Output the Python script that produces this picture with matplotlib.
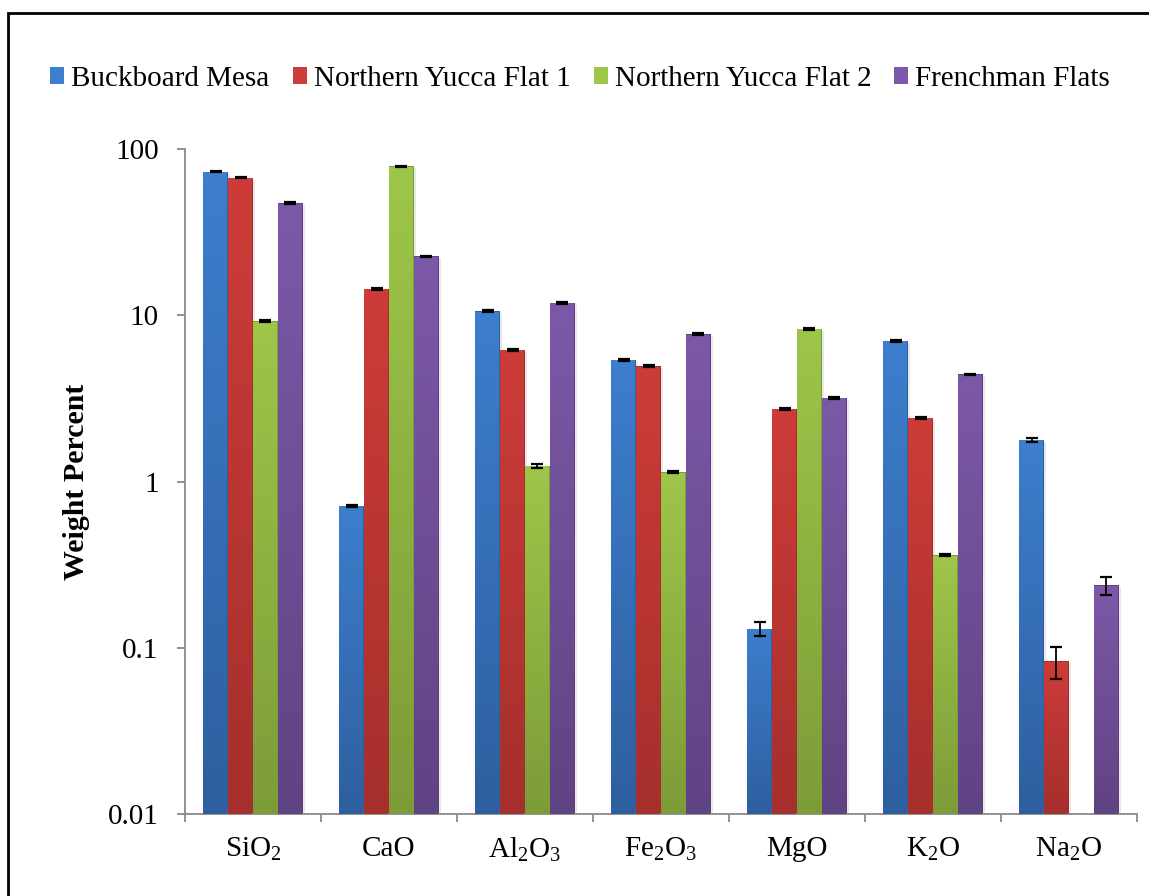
import numpy as np
import matplotlib
matplotlib.use('Agg')
import matplotlib.pyplot as plt
import matplotlib.transforms as mtransforms
import matplotlib.patheffects as pe
from matplotlib.patches import Rectangle
from matplotlib.colors import to_rgb

plt.rcParams['font.family'] = 'Liberation Serif'
plt.rcParams['mathtext.fontset'] = 'custom'
plt.rcParams['mathtext.rm'] = 'Liberation Serif'
plt.rcParams['mathtext.it'] = 'Liberation Serif:italic'
plt.rcParams['mathtext.bf'] = 'Liberation Serif:bold'

# --- datos: porcentaje en peso de cada óxido por sitio ---
oxidos = [r'SiO$_2$', 'CaO', r'Al$_2$O$_3$', r'Fe$_2$O$_3$', 'MgO', r'K$_2$O', r'Na$_2$O']
sitios = ['Buckboard Mesa', 'Northern Yucca Flat 1', 'Northern Yucca Flat 2', 'Frenchman Flats']

buckboard = [72.8, 0.713, 10.6, 5.38, 0.130, 7.0, 1.78]
nyf1 = [67.0, 14.4, 6.18, 4.95, 2.73, 2.41, 0.083]
nyf2 = [9.23, 78.6, 1.24, 1.14, 8.27, 0.361, np.nan]
frenchman = [47.3, 22.7, 11.85, 7.71, 3.18, 4.43, 0.238]

err_buckboard = [0.5, 0.01, 0.1, 0.05, 0.012, 0.06, 0.05]
err_nyf1 = [0.5, 0.12, 0.05, 0.04, 0.03, 0.02, 0.018]
err_nyf2 = [0.08, 0.6, 0.03, 0.01, 0.08, 0.004, np.nan]
err_frenchman = [0.4, 0.15, 0.1, 0.06, 0.03, 0.03, 0.029]

valores = [buckboard, nyf1, nyf2, frenchman]
errores = [err_buckboard, err_nyf1, err_nyf2, err_frenchman]

# colores: (arriba, abajo) para el degradado de cada barra
colores = [('#3d7ecd', '#2e5f9f'),
           ('#cd3c39', '#a52f2c'),
           ('#9ec649', '#7c9c38'),
           ('#7c59a8', '#604383')]

fs = 21

fig = plt.figure(figsize=(11.49, 8.96), dpi=100)
ax = fig.add_axes([0.161, 0.0915, 0.8285, 0.7422])
ax.set_yscale('log')
ax.set_ylim(0.01, 100)
ax.set_xlim(-0.5, len(oxidos) - 0.5)

x = np.arange(len(oxidos))
ancho = 0.183
desp = (np.arange(4) - 1.5) * ancho

blend = mtransforms.blended_transform_factory(ax.transData, ax.transAxes)
grad = np.linspace(0, 1, 256)[:, None]

for k in range(4):
    top = np.array(to_rgb(colores[k][0]))
    bot = np.array(to_rgb(colores[k][1]))
    img = (top[None, :] * (1 - grad) + bot[None, :] * grad)[:, None, :]
    bars = ax.bar(x + desp[k], valores[k], ancho, color=colores[k][1],
                  linewidth=0, zorder=2, label=sitios[k],
                  path_effects=[pe.SimplePatchShadow(offset=(1.5, -1.5), shadow_rgbFace='#aaaaaa', alpha=0.25),
                                pe.Normal()])
    for b, v in zip(bars, valores[k]):
        if np.isnan(v):
            continue
        x0 = b.get_x()
        # altura de la barra en fracción de ejes (escala log)
        yf = ax.transAxes.inverted().transform(ax.transData.transform((x0, v)))[1]
        ax.imshow(img, extent=(x0, x0 + ancho, 0, yf), transform=blend,
                  aspect='auto', interpolation='bilinear', zorder=3)
    ax.errorbar(x + desp[k], valores[k], yerr=errores[k], fmt='none', ecolor='black',
                elinewidth=1.3, capsize=4.5, capthick=1.6, zorder=4)

ax.set_xlim(-0.5, len(oxidos) - 0.5)
ax.set_ylim(0.01, 100)
ax.set_xticks(x)
ax.set_xticklabels(oxidos)
ax.set_xticks(np.arange(len(oxidos) + 1) - 0.5, minor=True)
ax.tick_params(axis='x', which='major', length=0, pad=16, labelsize=fs)
ax.tick_params(axis='x', which='minor', length=6, width=1.3, color='#898989')
ax.set_yticks([0.01, 0.1, 1, 10, 100])
ax.set_yticklabels(['0.01', '0.1', '1', '10', '100'])
ax.yaxis.set_minor_locator(matplotlib.ticker.NullLocator())
ax.tick_params(axis='y', which='major', length=6, width=1.3, color='#898989', pad=13, labelsize=fs)

for s in ['top', 'right']:
    ax.spines[s].set_visible(False)
for s in ['left', 'bottom']:
    ax.spines[s].set_color('#898989')
    ax.spines[s].set_linewidth(1.3)

ax.set_ylabel('Weight Percent', fontsize=21.5, fontweight='bold')
ax.yaxis.set_label_coords(-0.1, 0.5)

handles = [Rectangle((0, 0), 1, 1, facecolor=c[0], edgecolor='none') for c in colores]
fig.legend(handles, sitios, loc='center', bbox_to_anchor=(0.505, 0.912), ncol=4,
           frameon=False, fontsize=fs, handlelength=0.48, handleheight=0.48,
           handletextpad=0.24, columnspacing=0.79, borderaxespad=0)

# marco exterior
fig.patches.append(Rectangle((7.5 / 1149, -0.1), 1.2, 1 - 12.5 / 896 + 0.1,
                             transform=fig.transFigure, fill=False, edgecolor='black',
                             linewidth=2, clip_on=False))

fig.savefig('out.png', dpi=100)
